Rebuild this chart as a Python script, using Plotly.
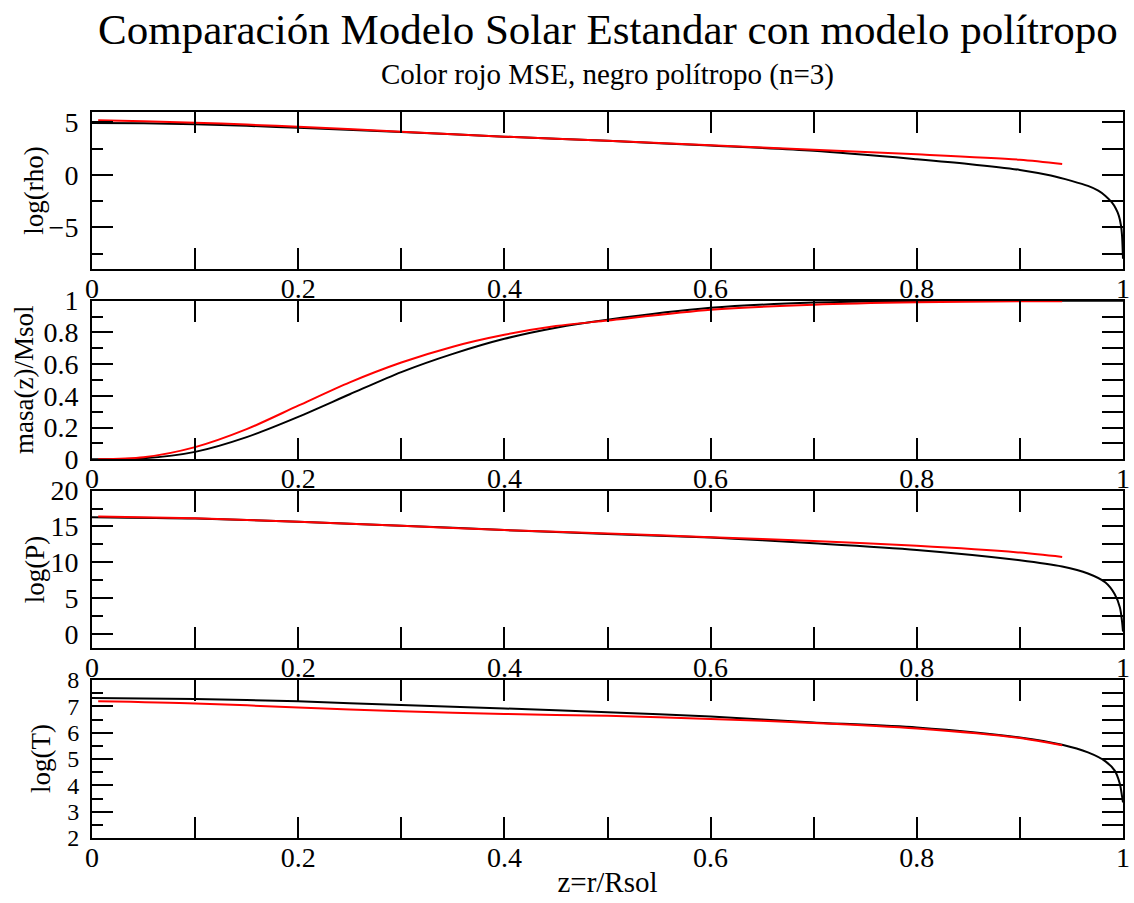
import plotly.graph_objects as go

FONT = "Liberation Serif"

# ---- log(rho) ----
rho_pol_x = [0, 0.05, 0.1, 0.15, 0.2, 0.3, 0.4, 0.5, 0.6, 0.7, 0.8, 0.85, 0.9,
             0.93, 0.95, 0.966, 0.976, 0.983, 0.989, 0.993, 0.996, 0.998, 0.999, 1.0]
rho_pol_y = [4.95, 4.92, 4.83, 4.68, 4.5, 4.1, 3.65, 3.25, 2.8, 2.3, 1.5, 1.05, 0.48,
             -0.06, -0.57, -1.05, -1.5, -2.0, -2.6, -3.2, -3.9, -4.8, -5.7, -8.0]
rho_mse_x = [0.006, 0.05, 0.1, 0.15, 0.2, 0.3, 0.4, 0.5, 0.6, 0.7, 0.8, 0.9, 0.941]
rho_mse_y = [5.22, 5.12, 4.98, 4.8, 4.6, 4.12, 3.65, 3.27, 2.82, 2.4, 1.97, 1.45, 1.05]

# ---- masa(z)/Msol ----
m_pol_x = [0, 0.05, 0.1, 0.15, 0.2, 0.25, 0.3, 0.35, 0.4, 0.45, 0.5, 0.6, 0.7, 0.8, 0.9, 1.0]
m_pol_y = [0, 0.006, 0.047, 0.14, 0.268, 0.41, 0.55, 0.665, 0.76, 0.83, 0.88, 0.955,
           0.988, 0.998, 1.0, 1.0]
m_mse_x = [0.006, 0.05, 0.1, 0.15, 0.2, 0.25, 0.3, 0.35, 0.4, 0.45, 0.5, 0.6, 0.7, 0.8,
           0.9, 0.941]
m_mse_y = [0.0, 0.013, 0.077, 0.19, 0.338, 0.485, 0.61, 0.71, 0.785, 0.84, 0.875, 0.943,
           0.975, 0.99, 0.996, 0.997]

# ---- log(P) ----
p_pol_x = [0, 0.1, 0.2, 0.3, 0.4, 0.5, 0.6, 0.7, 0.8, 0.9, 0.941, 0.966, 0.983, 0.992,
           0.997, 0.999, 1.0]
p_pol_y = [16.3, 16.1, 15.65, 15.1, 14.5, 13.95, 13.44, 12.65, 11.72, 10.28, 9.4, 8.42,
           7.16, 5.53, 3.67, 1.8, 0.3]
p_mse_x = [0.006, 0.1, 0.2, 0.3, 0.4, 0.5, 0.6, 0.7, 0.8, 0.9, 0.941]
p_mse_y = [16.4, 16.15, 15.65, 15.08, 14.5, 14.0, 13.5, 12.95, 12.3, 11.35, 10.74]

# ---- log(T) ----
t_pol_x = [0, 0.1, 0.2, 0.3, 0.4, 0.5, 0.6, 0.7, 0.8, 0.9, 0.941, 0.966, 0.983, 0.992,
           0.997, 0.999, 1.0]
t_pol_y = [7.32, 7.28, 7.19, 7.05, 6.92, 6.78, 6.61, 6.39, 6.2, 5.82, 5.54, 5.25, 4.91,
           4.56, 4.05, 3.6, 3.35]
t_mse_x = [0.006, 0.1, 0.2, 0.3, 0.4, 0.5, 0.6, 0.7, 0.8, 0.9, 0.941]
t_mse_y = [7.19, 7.11, 6.96, 6.81, 6.71, 6.64, 6.52, 6.37, 6.16, 5.8, 5.52]

panel_titles = ["log(rho)", "masa(z)/Msol", "log(P)", "log(T)"]
panel_ranges = [[-9, 6], [0, 1], [-2, 20], [2, 8]]
panel_dtick = [5, 0.2, 5, 1]
panel_minor = [2.5, 0.1, 2.5, 0.5]
panel_tickfont = [28, 28, 28, 24]
series = [
    (rho_pol_x, rho_pol_y, rho_mse_x, rho_mse_y),
    (m_pol_x, m_pol_y, m_mse_x, m_mse_y),
    (p_pol_x, p_pol_y, p_mse_x, p_mse_y),
    (t_pol_x, t_pol_y, t_mse_x, t_mse_y),
]
domains = [[0.7833, 1.0], [0.5216, 0.7401], [0.2617, 0.4784], [0.0, 0.2176]]
# centre of each vertical axis title, in pixels from the left edge of the page
title_px = [34, 24, 35, 41]

fig = go.Figure()
layout = {}
annotations = []

for i in range(4):
    n = i + 1
    xa = "x" if n == 1 else f"x{n}"
    ya = "y" if n == 1 else f"y{n}"
    yr = f"y{n + 4}"
    px_, py_, rx_, ry_ = series[i]
    fig.add_trace(go.Scatter(x=px_, y=py_, xaxis=xa, yaxis=ya, mode="lines",
                             line=dict(color="black", width=2, shape="spline", smoothing=0.8),
                             showlegend=False))
    fig.add_trace(go.Scatter(x=rx_, y=ry_, xaxis=xa, yaxis=ya, mode="lines",
                             line=dict(color="red", width=2, shape="spline", smoothing=0.8),
                             showlegend=False))
    # carrier for the right-hand tick axis
    fig.add_trace(go.Scatter(x=[], y=[], xaxis=xa, yaxis=yr, mode="lines",
                             showlegend=False, hoverinfo="skip"))

    layout[f"xaxis{'' if n == 1 else n}"] = dict(
        domain=[0, 1], anchor=ya, range=[0, 1], dtick=0.2, tick0=0,
        ticks="inside", ticklen=21, tickwidth=2, tickcolor="black",
        minor=dict(dtick=0.1, ticks="inside", ticklen=11, tickwidth=2, tickcolor="black"),
        showline=True, linewidth=2, linecolor="black", mirror="allticks",
        showgrid=False, zeroline=False, automargin=False, ticklabelstandoff=-7,
        tickfont=dict(family=FONT, size=28, color="black"),
        title=dict(text="z=r/Rsol", font=dict(family=FONT, size=29, color="black"),
                   standoff=0) if n == 4 else None,
    )
    layout[f"yaxis{'' if n == 1 else n}"] = dict(
        domain=domains[i], anchor=xa, range=panel_ranges[i], dtick=panel_dtick[i],
        tick0=0, ticks="inside", ticklen=21, tickwidth=2, tickcolor="black",
        minor=dict(dtick=panel_minor[i], ticks="inside", ticklen=11, tickwidth=2,
                   tickcolor="black"),
        showline=True, linewidth=2, linecolor="black", mirror=True,
        showgrid=False, zeroline=False, ticklabelstandoff=6, automargin=False,
        tickfont=dict(family=FONT, size=panel_tickfont[i], color="black"),
    )
    layout[f"yaxis{n + 4}"] = dict(
        overlaying=ya, anchor=xa, side="right", range=panel_ranges[i],
        dtick=panel_minor[i], tick0=0, ticks="inside", ticklen=21, tickwidth=2,
        tickcolor="black", showticklabels=False, showline=False, showgrid=False,
        zeroline=False, automargin=False,
    )
    annotations.append(dict(
        text=panel_titles[i], xref="paper", yref="paper",
        x=(title_px[i] - 92) / 1031, y=sum(domains[i]) / 2,
        xanchor="center", yanchor="middle",
        textangle=-90, showarrow=False,
        font=dict(family=FONT, size=27, color="black"),
    ))

annotations.append(dict(
    text="Comparación Modelo Solar Estandar con modelo polítropo",
    xref="paper", yref="paper", x=0.5, y=1.113, xanchor="center", yanchor="middle",
    showarrow=False, font=dict(family=FONT, size=43, color="black"),
))
annotations.append(dict(
    text="Color rojo MSE, negro polítropo (n=3)",
    xref="paper", yref="paper", x=0.5, y=1.051, xanchor="center", yanchor="middle",
    showarrow=False, font=dict(family=FONT, size=29, color="black"),
))

fig.update_layout(
    width=1134, height=903,
    margin=dict(l=92, r=11, t=112, b=65),
    paper_bgcolor="white", plot_bgcolor="white",
    font=dict(family=FONT, color="black"),
    annotations=annotations,
    **layout,
)

fig.write_html("out.html")
